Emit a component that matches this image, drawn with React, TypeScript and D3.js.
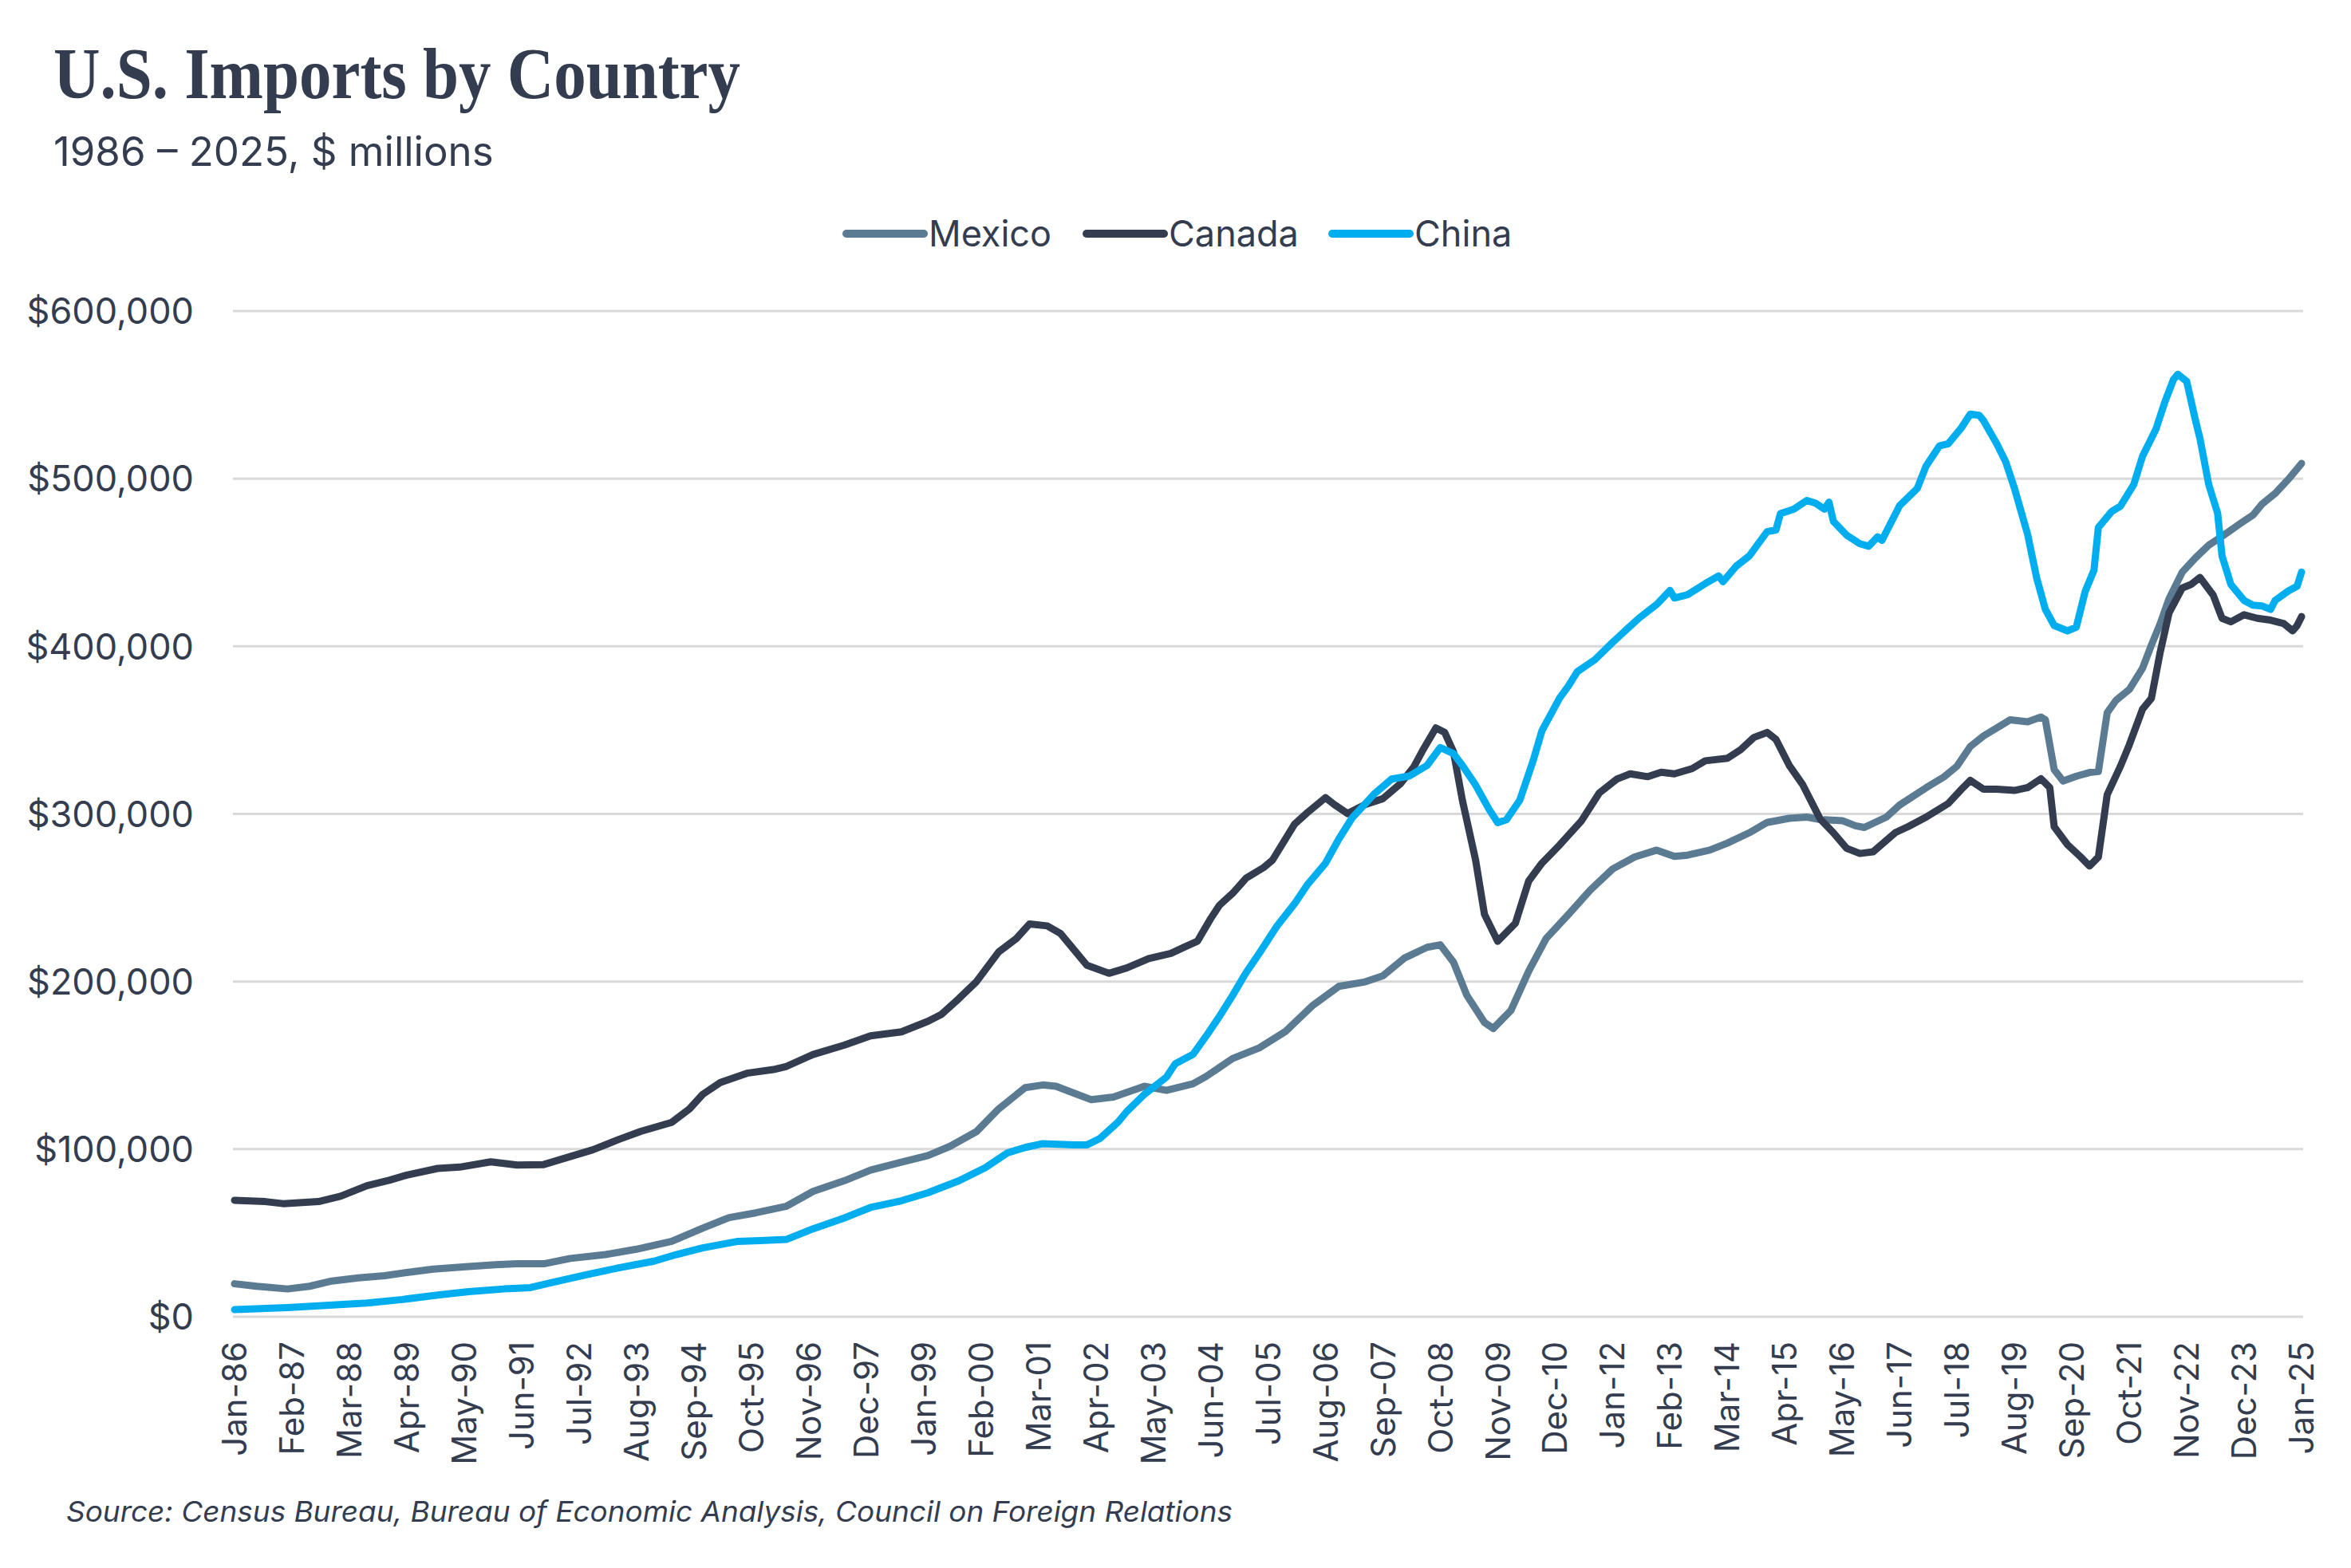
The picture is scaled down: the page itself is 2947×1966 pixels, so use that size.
import React from "react";
import * as d3 from "d3";

// Month index = months since Jan-1986 (0 = Jan-86, 468 = Jan-25). Values in $ millions.
const mexico: [number, number][] = [
  [0, 19700], [5, 18200], [12, 16600], [17, 18200], [22, 21300], [28, 23200], [34, 24500], [39, 26400],
  [45, 28400], [53, 30000], [59, 31100], [64, 31600], [70, 31600], [76, 34800], [84, 37100], [91, 40300],
  [99, 45000], [106, 52900], [112, 59200], [118, 62000], [125, 66000], [131, 74800], [138, 81100], [144, 87500],
  [151, 92200], [157, 96200], [162, 101700], [168, 110500], [173, 124000], [179, 136700], [183, 138300], [186, 137500],
  [190, 133500], [194, 129500], [199, 131100], [206, 137500], [211, 135100], [217, 139000], [220, 143400], [226, 154100],
  [232, 160400], [238, 170300], [244, 185500], [250, 197100], [256, 199800], [260, 203400], [265, 214200], [270, 220400],
  [273, 221900], [276, 211500], [279, 191800], [283, 175600], [285, 172000], [289, 182800], [293, 206100], [297, 225800],
  [302, 240000], [307, 254700], [312, 267100], [317, 274300], [322, 278400], [326, 274700], [329, 275400], [334, 278400],
  [338, 282600], [343, 288800], [347, 294900], [352, 297400], [356, 298100], [359, 296600], [364, 296000], [367, 292900],
  [369, 291900], [374, 298100], [377, 305300], [383, 315600], [387, 322000], [390, 328500], [393, 340200], [396, 346500],
  [400, 352900], [402, 356100], [406, 355000], [409, 357800], [410, 356100], [412, 326400], [414, 319600], [417, 322500],
  [420, 324700], [422, 325300], [424, 360400], [426, 367800], [429, 374200], [432, 386900], [434, 400700], [436, 413500],
  [438, 428400], [441, 444300], [444, 452800], [447, 460300], [450, 465600], [454, 473000], [457, 478300], [459, 484700],
  [462, 491100], [465, 499600], [468, 509100],
];

const canada: [number, number][] = [
  [0, 69500], [7, 68700], [11, 67500], [19, 68700], [24, 71900], [30, 78200], [35, 81400], [39, 84500],
  [46, 88500], [51, 89300], [58, 92400], [64, 90500], [70, 90800], [76, 95600], [81, 99500], [87, 105800],
  [92, 110600], [99, 116000], [103, 124000], [106, 132700], [110, 139800], [116, 145300], [122, 147500], [125, 149400],
  [131, 156500], [138, 162000], [144, 167600], [151, 170000], [157, 176300], [160, 180300], [164, 189800], [168, 200000],
  [173, 217600], [177, 225600], [180, 234300], [184, 233200], [187, 228700], [190, 219200], [193, 209700], [198, 204900],
  [202, 208100], [207, 213700], [212, 216800], [215, 220500], [218, 224000], [221, 237500], [223, 245500], [226, 252700],
  [229, 261600], [233, 268000], [235, 272400], [240, 293900], [243, 301000], [247, 309700], [249, 305600], [252, 300200],
  [256, 305600], [260, 309100], [264, 318100], [267, 328000], [269, 337800], [272, 351300], [274, 348600], [276, 336900],
  [278, 308200], [281, 272400], [283, 240100], [286, 224000], [290, 234800], [293, 259900], [296, 270600], [300, 281400],
  [305, 296000], [309, 312500], [313, 320800], [316, 323900], [320, 322200], [323, 324900], [326, 323900], [330, 327000],
  [333, 331700], [338, 333200], [341, 338300], [344, 345600], [347, 348600], [349, 344500], [352, 329000], [355, 317700],
  [359, 297000], [362, 288800], [365, 279500], [368, 276400], [371, 277400], [376, 288800], [379, 292500], [383, 298100],
  [388, 306200], [391, 314700], [393, 320000], [396, 314700], [399, 314700], [403, 314000], [406, 315700], [409, 321000],
  [411, 315700], [412, 292300], [415, 281700], [418, 274300], [420, 268900], [422, 274300], [424, 311500], [427, 328500],
  [429, 341200], [432, 362500], [434, 368900], [436, 396500], [438, 419900], [441, 434800], [443, 436900], [445, 441100],
  [448, 430500], [450, 416700], [452, 414600], [455, 418800], [458, 416700], [461, 415600], [464, 413500], [466, 409200],
  [467, 412400], [468, 417700],
];

const china: [number, number][] = [
  [0, 4300], [12, 5500], [23, 7100], [30, 8200], [38, 10300], [46, 13000], [53, 15000], [61, 16600],
  [67, 17400], [72, 20500], [80, 25300], [87, 29200], [95, 33200], [100, 37100], [106, 41100], [114, 45000],
  [119, 45400], [125, 46200], [131, 52500], [138, 58900], [144, 65200], [151, 69200], [157, 74000], [164, 81100],
  [170, 89000], [175, 97800], [179, 101000], [183, 103300], [190, 102500], [193, 102500], [196, 106500], [200, 116000],
  [202, 122400], [206, 132700], [211, 143000], [213, 151000], [217, 156500], [220, 167500], [223, 179200], [226, 191800],
  [229, 205200], [232, 216800], [236, 233000], [240, 246400], [243, 258100], [247, 270600], [250, 284900], [253, 297500],
  [258, 311800], [262, 320800], [266, 322600], [270, 328900], [273, 339600], [276, 336000], [278, 328900], [281, 317200],
  [284, 302900], [286, 294800], [288, 296600], [291, 308200], [294, 331500], [296, 349500], [300, 369000], [302, 376300],
  [304, 384800], [308, 392000], [312, 402300], [315, 409600], [318, 416800], [322, 425000], [325, 433300], [326, 428800],
  [329, 430800], [333, 437400], [336, 442000], [337, 438500], [340, 447800], [343, 454000], [345, 461200], [347, 468400],
  [349, 469400], [350, 479100], [353, 481800], [356, 487000], [358, 485300], [360, 481800], [361, 486000], [362, 474600],
  [365, 466300], [368, 461200], [370, 459700], [372, 465300], [373, 463200], [377, 483900], [381, 494200], [383, 507600],
  [386, 519500], [388, 520800], [391, 530400], [393, 538500], [395, 537800], [396, 534600], [399, 520800], [401, 510200],
  [403, 494300], [406, 466600], [408, 441100], [410, 422000], [412, 412400], [415, 409200], [417, 411400], [419, 432600],
  [421, 445400], [422, 470900], [425, 480400], [427, 483600], [430, 496400], [432, 513400], [435, 529300], [437, 545300],
  [439, 559100], [440, 562300], [442, 558000], [444, 534600], [445, 524000], [447, 496400], [449, 479400], [450, 453900],
  [452, 436900], [455, 427300], [457, 424500], [459, 424100], [461, 422000], [462, 427300], [465, 433000], [467, 435800],
  [468, 444300],
];

const xTickLabels = [
  "Jan-86", "Feb-87", "Mar-88", "Apr-89", "May-90", "Jun-91", "Jul-92", "Aug-93", "Sep-94", "Oct-95",
  "Nov-96", "Dec-97", "Jan-99", "Feb-00", "Mar-01", "Apr-02", "May-03", "Jun-04", "Jul-05", "Aug-06",
  "Sep-07", "Oct-08", "Nov-09", "Dec-10", "Jan-12", "Feb-13", "Mar-14", "Apr-15", "May-16", "Jun-17",
  "Jul-18", "Aug-19", "Sep-20", "Oct-21", "Nov-22", "Dec-23", "Jan-25",
];
const xTickStep = 13;
const yTicks = [0, 100000, 200000, 300000, 400000, 500000, 600000];

const seriesNames = ["Mexico", "Canada", "China"];
const seriesColors = ["#5b7b92", "#333d4f", "#00aeef"];

const TEXT = "#333d4f";
const SANS = "Inter, 'Noto Sans', sans-serif";

export default function App() {
  const W = 2947;
  const H = 1966;
  const x = d3.scaleLinear().domain([0, 468]).range([294, 2885]);
  const y = d3.scaleLinear().domain([0, 600000]).range([1651, 390]);
  const line = d3
    .line<[number, number]>()
    .x((d) => x(d[0]))
    .y((d) => y(d[1]))
    .curve(d3.curveLinear);
  const data = [mexico, canada, china];
  const fmt = d3.format("$,");

  const legendX = [1061, 1362, 1670];
  const legendLen = 97;
  const legendY = 293;

  return (
    <svg
      width={W}
      height={H}
      viewBox={`0 0 ${W} ${H}`}
      style={{ position: "absolute", left: 0, top: 0, background: "#fff" }}
    >
      <rect x={0} y={0} width={W} height={H} fill="#fff" />
      <text
        x={67}
        y={123}
        fontFamily="'Liberation Serif', 'DejaVu Serif', serif"
        fontWeight={700}
        fontSize={92}
        fill={TEXT}
        textLength={861}
        lengthAdjust="spacingAndGlyphs"
      >
        U.S. Imports by Country
      </text>
      <text x={67} y={208} fontFamily={SANS} fontSize={51} fill={TEXT}>
        1986 – 2025, $ millions
      </text>

      {seriesNames.map((name, i) => (
        <g key={name}>
          <line
            x1={legendX[i]}
            x2={legendX[i] + legendLen}
            y1={legendY}
            y2={legendY}
            stroke={seriesColors[i]}
            strokeWidth={10}
            strokeLinecap="round"
          />
          <text
            x={legendX[i] + legendLen + 6}
            y={legendY}
            dy="0.36em"
            fontFamily={SANS}
            fontSize={45}
            fill={TEXT}
          >
            {name}
          </text>
        </g>
      ))}

      {yTicks.map((t) => (
        <g key={t}>
          <line x1={292} x2={2887} y1={y(t)} y2={y(t)} stroke="#d9d9d9" strokeWidth={3} />
          <text
            x={243}
            y={y(t)}
            dy="0.36em"
            textAnchor="end"
            fontFamily={SANS}
            fontSize={45}
            fill={TEXT}
          >
            {fmt(t)}
          </text>
        </g>
      ))}

      {xTickLabels.map((lab, k) => {
        const px = x(k * xTickStep);
        return (
          <text
            key={lab}
            transform={`translate(${px},1682) rotate(-90)`}
            textAnchor="end"
            dy="0.36em"
            fontFamily={SANS}
            fontSize={42}
            fill={TEXT}
          >
            {lab}
          </text>
        );
      })}

      {data.map((d, i) => (
        <path
          key={seriesNames[i]}
          d={line(d) || ""}
          fill="none"
          stroke={seriesColors[i]}
          strokeWidth={9}
          strokeLinejoin="round"
          strokeLinecap="round"
        />
      ))}

      <text
        x={83}
        y={1908}
        fontFamily={SANS}
        fontStyle="italic"
        fontSize={36}
        fill={TEXT}
        textLength={1462}
        lengthAdjust="spacingAndGlyphs"
      >
        Source: Census Bureau, Bureau of Economic Analysis, Council on Foreign Relations
      </text>
    </svg>
  );
}
